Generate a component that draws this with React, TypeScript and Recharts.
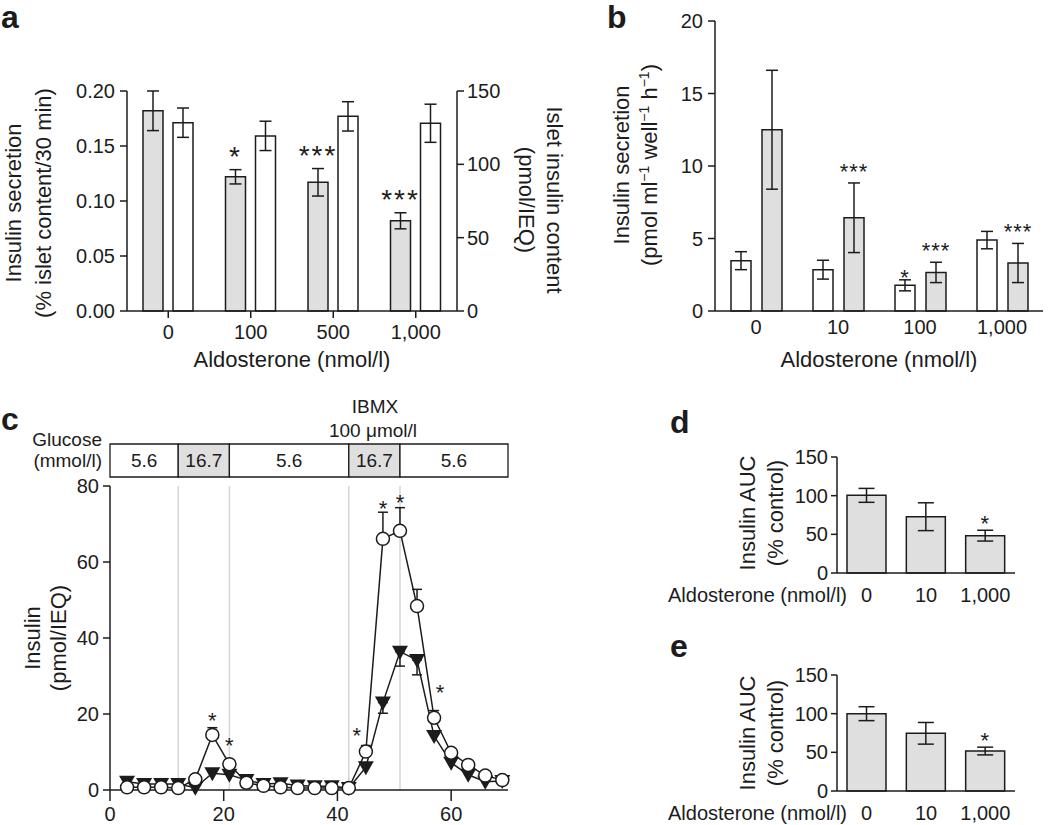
import React from "react";
import {
  BarChart,
  Bar,
  LineChart,
  Line,
  XAxis,
  YAxis,
  ErrorBar,
  LabelList,
  ReferenceLine,
} from "recharts";

const FONT = '"Liberation Sans", Arial, Helvetica, sans-serif';
const INK = "#1c1c1c";
const GRAY = "#dfdfdf";
const GUIDE = "#d6d6d6";

// a: insulin secretion (grey, left axis) and islet insulin content (white, right axis)
const aDoses = ["0", "100", "500", "1,000"];
const aSecretion = [0.182, 0.122, 0.117, 0.082];
const aSecretionErr = [0.018, 0.0065, 0.0125, 0.0073];
const aSecretionSig = ["", "*", "***", "***"];
const aContent = [128.4, 119.4, 132.7, 128.0];
const aContentErr = [10, 10, 10, 13];

// b
const bDoses = ["0", "10", "100", "1,000"];
const bOpen = [3.47, 2.85, 1.77, 4.89];
const bOpenErr = [0.62, 0.65, 0.38, 0.6];
const bOpenSig = ["", "", "*", ""];
const bGrey = [12.5, 6.43, 2.66, 3.31];
const bGreyErr = [4.1, 2.4, 0.7, 1.35];
const bGreySig = ["", "***", "***", "***"];

// c: perifusion time course (min)
const cTime = [3, 6, 9, 12, 15, 18, 21, 24, 27, 30, 33, 36, 39, 42, 45, 48, 51, 54, 57, 60, 63, 66, 69];
const cControl = [0.7, 0.7, 0.7, 0.5, 2.8, 14.5, 6.8, 1.9, 1.1, 0.7, 0.5, 0.5, 0.5, 0.5, 10.1, 66.1, 68.2, 48.4, 19.0, 9.8, 6.6, 3.8, 2.6];
const cControlErr = [null, null, null, null, null, 1.9, null, null, null, null, null, null, null, null, 1.6, 7.0, 6.1, 4.4, 1.9, null, null, null, null];
const cAldo = [2.2, 1.6, 1.6, 1.6, 0.6, 4.4, 4.0, 2.6, 1.6, 1.8, 1.2, 1.0, 1.0, 0.5, 6.0, 23.0, 36.4, 34.2, 14.2, 7.2, 4.0, 2.2, 2.4];
const cAldoErr = [null, null, null, null, null, null, null, null, null, null, null, null, null, null, null, 2.8, 3.8, 3.9, null, null, null, null, null];
const cSig = ["", "", "", "", "", "*", "*", "", "", "", "", "", "", "", "*", "*", "*", "", "*", "", "", "", ""];
const glucoseDur = [12, 9, 21, 9, 19];
const glucoseConc = ["5.6", "16.7", "5.6", "16.7", "5.6"];

// d, e
const aucDoses = ["0", "10", "1,000"];
const dAuc = [100.4, 72.8, 48.3];
const dAucErr = [9, 18, 7];
const eAuc = [100, 74.6, 51.7];
const eAucErr = [9, 14, 5];
const aucSig = ["", "", "*"];

const axisStroke = { stroke: INK, strokeWidth: 1.5 };

// asterisk placed above the error bar of a bar
function barSig(values: number[], errs: number[], fontSize: number, lift: number) {
  return (props: any) => {
    const { index, value } = props;
    if (!value) return null;
    const vb = props.viewBox ?? props;
    const bx = Number(props.x ?? vb.x);
    const by = Number(props.y ?? vb.y);
    const bw = Number(props.width ?? vb.width);
    const bh = Number(props.height ?? vb.height);
    const top = Math.min(by, by + bh);
    const errPx = values[index] ? (errs[index] * Math.abs(bh)) / values[index] : 0;
    return (
      <text
        key={`sig-${index}`}
        x={bx + bw / 2}
        y={top - errPx - lift}
        textAnchor="middle"
        fontSize={fontSize}
        fill={INK}
        letterSpacing={fontSize > 24 ? 2 : 1}
      >
        {value}
      </text>
    );
  };
}

function PanelA() {
  const data = aDoses.map((d, i) => ({
    dose: d,
    sec: aSecretion[i],
    secErr: aSecretionErr[i],
    sig: aSecretionSig[i],
    content: aContent[i],
    contentErr: aContentErr[i],
  }));
  return (
    <div style={{ position: "absolute", left: 0, top: 0 }}>
      <BarChart
        width={580}
        height={380}
        data={data}
        margin={{ top: 91, right: 63, bottom: 39, left: 67 }}
        barSize={20}
        barGap={10}
      >
        <XAxis
          dataKey="dose"
          interval={0}
          height={30}
          tickSize={7}
          tickMargin={7}
          axisLine={axisStroke}
          tickLine={axisStroke}
          tick={{ fontSize: 20, fill: INK }}
        />
        <YAxis
          yAxisId="sec"
          domain={[0, 0.2]}
          ticks={[0, 0.05, 0.1, 0.15, 0.2]}
          tickFormatter={(v: number) => v.toFixed(2)}
          width={60}
          tickSize={7}
          tickMargin={5}
          axisLine={axisStroke}
          tickLine={axisStroke}
          tick={{ fontSize: 20, fill: INK }}
        />
        <YAxis
          yAxisId="content"
          orientation="right"
          domain={[0, 150]}
          ticks={[0, 50, 100, 150]}
          width={60}
          tickSize={7}
          tickMargin={3}
          axisLine={axisStroke}
          tickLine={axisStroke}
          tick={{ fontSize: 20, fill: INK }}
        />
        <Bar yAxisId="sec" dataKey="sec" fill={GRAY} stroke={INK} strokeWidth={1.5} isAnimationActive={false}>
          <ErrorBar dataKey="secErr" width={6} stroke={INK} strokeWidth={1.5} />
          <LabelList dataKey="sig" content={barSig(aSecretion, aSecretionErr, 28, 4)} />
        </Bar>
        <Bar yAxisId="content" dataKey="content" fill="#fff" stroke={INK} strokeWidth={1.5} isAnimationActive={false}>
          <ErrorBar dataKey="contentErr" width={6} stroke={INK} strokeWidth={1.5} />
        </Bar>
      </BarChart>
    </div>
  );
}

function PanelB() {
  const data = bDoses.map((d, i) => ({
    dose: d,
    open: bOpen[i],
    openErr: bOpenErr[i],
    openSig: bOpenSig[i],
    grey: bGrey[i],
    greyErr: bGreyErr[i],
    greySig: bGreySig[i],
  }));
  return (
    <div style={{ position: "absolute", left: 580, top: 0 }}>
      <BarChart
        width={470}
        height={380}
        data={data}
        margin={{ top: 21, right: 7, bottom: 39, left: 75 }}
        barSize={20}
        barGap={11}
      >
        <XAxis
          dataKey="dose"
          interval={0}
          height={30}
          tickLine={false}
          tickSize={0}
          tickMargin={9}
          axisLine={axisStroke}
          tick={{ fontSize: 20, fill: INK }}
        />
        <YAxis
          domain={[0, 20]}
          ticks={[0, 5, 10, 15, 20]}
          width={60}
          tickSize={7}
          tickMargin={5}
          axisLine={axisStroke}
          tickLine={axisStroke}
          tick={{ fontSize: 20, fill: INK }}
        />
        <Bar dataKey="open" fill="#fff" stroke={INK} strokeWidth={1.5} isAnimationActive={false}>
          <ErrorBar dataKey="openErr" width={6} stroke={INK} strokeWidth={1.5} />
          <LabelList dataKey="openSig" content={barSig(bOpen, bOpenErr, 22, -5)} />
        </Bar>
        <Bar dataKey="grey" fill={GRAY} stroke={INK} strokeWidth={1.5} isAnimationActive={false}>
          <ErrorBar dataKey="greyErr" width={6} stroke={INK} strokeWidth={1.5} />
          <LabelList dataKey="greySig" content={barSig(bGrey, bGreyErr, 22, 4)} />
        </Bar>
      </BarChart>
    </div>
  );
}

function GlucoseBar() {
  const row: Record<string, any> = { name: "glucose" };
  glucoseDur.forEach((d, i) => (row[`s${i}`] = d));
  return (
    <div style={{ position: "absolute", left: 0, top: 440 }}>
      <BarChart
        layout="vertical"
        width={560}
        height={40}
        data={[row]}
        margin={{ top: 4, right: 52, bottom: 3, left: 110 }}
        barCategoryGap={0}
      >
        <XAxis type="number" domain={[0, 70]} hide />
        <YAxis type="category" dataKey="name" hide />
        {glucoseDur.map((_, i) => (
          <Bar
            key={i}
            dataKey={`s${i}`}
            stackId="g"
            fill={glucoseConc[i] === "16.7" ? GRAY : "#fff"}
            stroke={INK}
            strokeWidth={1.3}
            isAnimationActive={false}
          >
            <LabelList
              dataKey={`s${i}`}
              position="center"
              formatter={() => glucoseConc[i]}
              style={{ fontSize: 19, fill: INK }}
            />
          </Bar>
        ))}
      </BarChart>
    </div>
  );
}

// per-point nudges for the asterisks in c: [dx, lift]
const cSigNudge: Record<number, [number, number]> = {
  18: [0, 0],
  21: [0, 11],
  45: [-9, 3],
  48: [0, -4],
  51: [0, -2],
  57: [6, 11],
};

const triangleDot = (p: any) => {
  const { cx, cy, index } = p;
  if (cx == null || cy == null) return <g key={`tri-${index}`} />;
  return (
    <path
      key={`tri-${index}`}
      d={`M${cx - 8},${cy - 6}L${cx + 8},${cy - 6}L${cx},${cy + 8}Z`}
      fill={INK}
    />
  );
};

function cSigLabel(props: any) {
  const { index } = props;
  const mark = cSig[index];
  if (!mark) return null;
  const x = Number(props.x ?? props.viewBox?.x);
  const y = Number(props.y ?? props.viewBox?.y);
  if (!isFinite(x) || !isFinite(y)) return null;
  const [dx, lift] = cSigNudge[cTime[index]] ?? [0, 0];
  return (
    <text key={`csig-${index}`} x={x + dx} y={y - lift} textAnchor="middle" fontSize={22} fill={INK}>
      {mark}
    </text>
  );
}

function PanelC() {
  const data = cTime.map((t, i) => ({
    t,
    ctrl: cControl[i],
    ctrlErr: cControlErr[i] == null ? null : [0, cControlErr[i]],
    aldo: cAldo[i],
    aldoErr: cAldoErr[i] == null ? null : [cAldoErr[i], 0],
    sigY: cSig[i] ? cControl[i] + (cControlErr[i] ?? 0) : null,
  }));
  const boundaries: number[] = [];
  glucoseDur.slice(0, -1).reduce((acc, d) => {
    boundaries.push(acc + d);
    return acc + d;
  }, 0);
  return (
    <div style={{ position: "absolute", left: 0, top: 380 }}>
      <LineChart width={560} height={445} data={data} margin={{ top: 106, right: 52, bottom: 5, left: 50 }}>
        <XAxis
          type="number"
          dataKey="t"
          domain={[0, 70]}
          ticks={[0, 20, 40, 60]}
          height={30}
          tickSize={11}
          tickMargin={6}
          axisLine={axisStroke}
          tickLine={axisStroke}
          tick={{ fontSize: 20, fill: INK }}
        />
        <YAxis
          domain={[0, 80]}
          ticks={[0, 20, 40, 60, 80]}
          width={60}
          tickSize={7}
          tickMargin={4}
          axisLine={axisStroke}
          tickLine={axisStroke}
          tick={{ fontSize: 20, fill: INK }}
        />
        {boundaries.map((b) => (
          <ReferenceLine key={b} x={b} stroke={GUIDE} strokeWidth={1.5} />
        ))}
        <Line dataKey="aldo" stroke="none" dot={false} activeDot={false} isAnimationActive={false}>
          <ErrorBar dataKey="aldoErr" width={5} stroke={INK} strokeWidth={1.5} />
        </Line>
        <Line dataKey="aldo" stroke={INK} strokeWidth={1.5} dot={triangleDot} activeDot={false} isAnimationActive={false} />
        <Line dataKey="ctrl" stroke="none" dot={false} activeDot={false} isAnimationActive={false}>
          <ErrorBar dataKey="ctrlErr" width={5} stroke={INK} strokeWidth={1.5} />
        </Line>
        <Line
          dataKey="ctrl"
          stroke={INK}
          strokeWidth={1.5}
          dot={{ r: 6.5, fill: "#fff", stroke: INK, strokeWidth: 1.5 }}
          activeDot={false}
          isAnimationActive={false}
        />
        <Line dataKey="sigY" stroke="none" dot={false} activeDot={false} isAnimationActive={false}>
          <LabelList dataKey="sigY" content={cSigLabel} />
        </Line>
      </LineChart>
    </div>
  );
}

function AucPanel({ top, values, errs }: { top: number; values: number[]; errs: number[] }) {
  const data = aucDoses.map((d, i) => ({ dose: d, auc: values[i], err: errs[i], sig: aucSig[i] }));
  return (
    <div style={{ position: "absolute", left: 780, top }}>
      <BarChart width={250} height={180} data={data} margin={{ top: 17, right: 15, bottom: 17, left: 7 }} barSize={39}>
        <XAxis
          dataKey="dose"
          interval={0}
          height={30}
          tickLine={false}
          tickSize={0}
          tickMargin={15}
          axisLine={axisStroke}
          tick={{ fontSize: 20, fill: INK }}
        />
        <YAxis
          domain={[0, 150]}
          ticks={[0, 50, 100, 150]}
          width={50}
          tickSize={6}
          tickMargin={3}
          axisLine={axisStroke}
          tickLine={axisStroke}
          tick={{ fontSize: 20, fill: INK }}
        />
        <Bar dataKey="auc" fill={GRAY} stroke={INK} strokeWidth={1.5} isAnimationActive={false}>
          <ErrorBar dataKey="err" width={8} stroke={INK} strokeWidth={1.5} />
          <LabelList dataKey="sig" content={barSig(values, errs, 22, -1)} />
        </Bar>
      </BarChart>
    </div>
  );
}

const Rot = ({ x, y, angle, size = 22, children }: any) => (
  <text transform={`translate(${x},${y}) rotate(${angle})`} textAnchor="middle" fontSize={size}>
    {children}
  </text>
);

function Annotations() {
  const sup = (k: string) => (
    <tspan key={k} dy={-8} fontSize={14}>
      −1
    </tspan>
  );
  return (
    <svg
      width={1050}
      height={825}
      style={{ position: "absolute", left: 0, top: 0, pointerEvents: "none" }}
      fontFamily={FONT}
      fill={INK}
    >
      <text x={1} y={28} fontSize={32} fontWeight="bold">a</text>
      <text x={607} y={28} fontSize={32} fontWeight="bold">b</text>
      <text x={1} y={430} fontSize={32} fontWeight="bold">c</text>
      <text x={670} y={433} fontSize={32} fontWeight="bold">d</text>
      <text x={670} y={657} fontSize={32} fontWeight="bold">e</text>

      {/* a */}
      <Rot x={21} y={203} angle={-90}>Insulin secretion</Rot>
      <Rot x={51} y={203} angle={-90}>(% islet content/30 min)</Rot>
      <Rot x={547} y={200} angle={90}>Islet insulin content</Rot>
      <Rot x={519} y={200} angle={90}>(pmol/IEQ)</Rot>
      <text x={292} y={367} textAnchor="middle" fontSize={22}>Aldosterone (nmol/l)</text>

      {/* b */}
      <Rot x={629} y={165} angle={-90}>Insulin secretion</Rot>
      <text transform="translate(657,165) rotate(-90)" textAnchor="middle" fontSize={22}>
        (pmol ml{sup("s1")}
        <tspan dy={8}> well</tspan>
        {sup("s2")}
        <tspan dy={8}> h</tspan>
        {sup("s3")}
        <tspan dy={8}>)</tspan>
      </text>
      <text x={879} y={367} textAnchor="middle" fontSize={22}>Aldosterone (nmol/l)</text>

      {/* c */}
      <text x={102} y={446} textAnchor="end" fontSize={19}>Glucose</text>
      <text x={102} y={467} textAnchor="end" fontSize={19}>(mmol/l)</text>
      <text x={375} y={413} textAnchor="middle" fontSize={19}>IBMX</text>
      <text x={373} y={437} textAnchor="middle" fontSize={19}>100 μmol/l</text>
      <Rot x={40} y={638} angle={-90}>Insulin</Rot>
      <Rot x={66} y={638} angle={-90}>(pmol/IEQ)</Rot>

      {/* d */}
      <Rot x={755} y={513} angle={-90}>Insulin AUC</Rot>
      <Rot x={783} y={513} angle={-90}>(% control)</Rot>
      <text x={847} y={602} textAnchor="end" fontSize={20}>Aldosterone (nmol/l)</text>

      {/* e */}
      <Rot x={755} y={733} angle={-90}>Insulin AUC</Rot>
      <Rot x={783} y={733} angle={-90}>(% control)</Rot>
      <text x={847} y={820} textAnchor="end" fontSize={20}>Aldosterone (nmol/l)</text>
    </svg>
  );
}

export default function App() {
  return (
    <div
      style={{
        position: "absolute",
        left: 0,
        top: 0,
        width: 1050,
        height: 825,
        background: "#fff",
        fontFamily: FONT,
        overflow: "hidden",
      }}
    >
      <PanelA />
      <PanelB />
      <GlucoseBar />
      <PanelC />
      <AucPanel top={440} values={dAuc} errs={dAucErr} />
      <AucPanel top={658} values={eAuc} errs={eAucErr} />
      <Annotations />
    </div>
  );
}
